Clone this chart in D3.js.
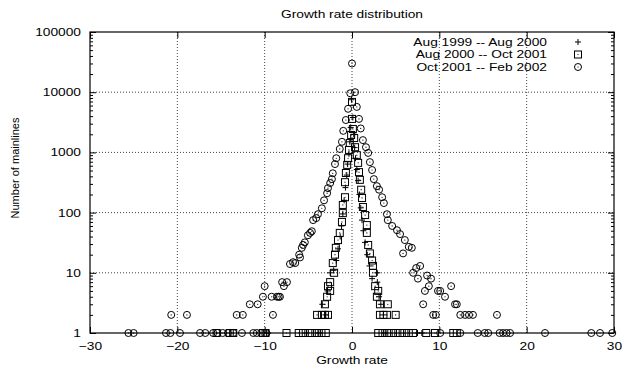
<!DOCTYPE html>
<html>
<head>
<meta charset="utf-8">
<script src="https://cdn.jsdelivr.net/npm/d3@7"></script>
<style>
  body { margin: 0; background: #fff; }
  text { font-family: "Liberation Sans", Arial, sans-serif; fill: #000; }
</style>
</head>
<body>
<svg id="chart" width="622" height="372"></svg>
<script>
// series: [growth rate, number of mainlines]
const plusData = [
  [-0.05, 7500], [0.1, 3800], [-0.15, 2600], [0.2, 2000], [-0.25, 1500], [0.3, 1200],
  [-0.35, 950], [0.4, 800], [-0.5, 640], [0.55, 520], [-0.6, 420], [0.7, 340],
  [-0.75, 260], [0.85, 200], [-0.9, 160], [1.0, 120], [-1.05, 95], [1.15, 75],
  [-1.2, 60], [1.3, 50], [-1.35, 40], [1.5, 32], [-1.6, 25], [1.75, 20],
  [-1.8, 16], [2.0, 13], [-2.1, 11], [2.3, 8], [-2.5, 10], [2.9, 10],
  [2.9, 7], [-2.8, 5], [3.1, 4], [-3.4, 3], [3.3, 3], [-3.0, 2], [3.6, 2],
  [-9.6, 1], [-5.2, 1], [-3.8, 1], [3.8, 1], [7.5, 1], [8.0, 1]
];
const squareData = [
  [0, 6900], [0, 3600], [0.1, 2450], [-0.1, 1950], [0.25, 1730], [-0.25, 1430],
  [0.35, 1220], [-0.35, 1100], [0.55, 900], [-0.45, 800], [0.7, 670], [-0.55, 620],
  [0.8, 470], [-0.7, 455], [0.9, 350], [-0.8, 320], [1.05, 240], [-0.8, 180],
  [1.15, 175], [-1.05, 134], [1.25, 124], [-1.05, 98], [1.5, 91], [-1.15, 70],
  [1.7, 62], [-1.4, 46], [1.7, 46], [-1.6, 35], [1.85, 29], [-1.85, 26],
  [2.05, 21], [-1.95, 20], [2.3, 16], [-2.2, 14.5], [2.4, 13], [-2.05, 10],
  [2.4, 10], [-2.5, 7], [2.65, 6], [-2.75, 6], [3.0, 5], [-2.5, 5], [2.85, 4],
  [-2.85, 4], [-3.1, 3], [3.2, 3], [4.1, 3], [3.2, 2], [3.6, 2], [4.0, 2],
  [5.0, 2], [-3.45, 2], [-4.0, 2], [-3.1, 2], [-2.75, 2],
  [-15.5, 1], [-14.0, 1], [-13.6, 1], [-10.2, 1], [-9.9, 1], [-7.5, 1], [-6.1, 1],
  [-5.6, 1], [-5.0, 1], [-4.6, 1], [-4.0, 1], [-3.5, 1], [-3.0, 1], [3.0, 1],
  [3.5, 1], [4.0, 1], [4.5, 1], [5.0, 1], [5.5, 1], [6.0, 1], [6.5, 1], [7.0, 1],
  [8.5, 1], [9.5, 1], [11.6, 1], [12.0, 1]
];
const circleData = [
  [0.0, 30000], [-0.2, 9600], [0.35, 10000], [-0.45, 5300], [0.55, 5700],
  [-0.7, 3450], [0.8, 3600], [-1.0, 2280],
  [-1.15, 1500], [-1.4, 1140], [-1.8, 800], [-1.95, 640], [-2.2, 450], [-2.3, 360],
  [-2.5, 310], [-2.75, 255], [-2.85, 210], [-3.2, 160], [-3.45, 118], [-3.9, 94],
  [-4.1, 81], [-4.45, 75], [-4.6, 49], [-4.8, 46], [-5.05, 42], [-5.4, 32],
  [-5.6, 29], [-5.75, 26], [-6.05, 20], [-5.95, 18], [-6.5, 14.5], [-6.75, 15],
  [-7.1, 14], [-7.45, 7], [-7.8, 6], [-8.0, 7], [-8.25, 4], [-8.4, 4], [-8.6, 4],
  [-9.2, 4], [-10.0, 6], [-10.2, 4], [-10.8, 3], [-11.7, 3], [-9.05, 2],
  [-12.5, 2], [-13.2, 2], [-18.9, 2], [-20.7, 2],
  [1.0, 2500], [1.25, 1600], [1.6, 1220], [1.85, 980], [2.05, 690], [2.3, 510],
  [2.5, 360], [2.85, 275], [3.1, 240], [3.45, 180], [3.65, 144], [4.0, 94],
  [4.1, 75], [4.6, 60], [5.15, 51], [5.5, 44], [6.05, 35], [6.5, 27], [6.85, 26],
  [5.85, 21], [7.8, 13], [7.35, 12], [7.0, 10], [7.55, 8], [8.6, 9], [9.05, 8],
  [8.8, 6], [8.35, 5], [9.85, 5], [10.1, 5], [11.35, 6], [10.65, 4], [8.15, 3],
  [11.8, 3], [12.0, 3], [9.3, 2], [9.6, 2], [12.4, 2], [12.95, 2], [13.4, 2],
  [13.85, 2], [16.6, 2],
  [-25.6, 1], [-25.0, 1], [-21.3, 1], [-20.8, 1], [-19.7, 1], [-17.4, 1], [-16.8, 1],
  [-15.9, 1], [-15.4, 1], [-14.8, 1], [-14.2, 1], [-13.6, 1], [-12.6, 1], [-11.3, 1],
  [-10.9, 1], [-10.4, 1], [-9.8, 1], [10.1, 1], [12.4, 1], [14.4, 1], [15.2, 1],
  [15.6, 1], [16.9, 1], [17.3, 1], [17.7, 1], [18.1, 1], [22.1, 1], [27.4, 1],
  [28.4, 1], [29.8, 1]
];
const seriesNames = ["Aug 1999 -- Aug 2000", "Aug 2000 -- Oct 2001", "Oct 2001 -- Feb 2002"];
const xTicks = [-30, -20, -10, 0, 10, 20, 30];
const yTicks = [1, 10, 100, 1000, 10000, 100000];

const FONT = 11;
const SX = 1.25; // 原图文字横向被拉宽

const svg = d3.select("#chart");
const margin = { top: 32, right: 8, bottom: 39, left: 90 };
const width = 622 - margin.left - margin.right;
const height = 372 - margin.top - margin.bottom;

const x = d3.scaleLinear().domain([-30, 30]).range([0, width]);
const y = d3.scaleLog().domain([1, 100000]).range([height, 0]);

const g = svg.append("g").attr("transform", `translate(${margin.left},${margin.top})`);

// 网格
const gridX = xTicks.filter((d) => d > -30 && d < 30);
const gridY = yTicks.filter((d) => d > 1 && d < 100000);
g.selectAll(".gx").data(gridX).enter().append("line")
  .attr("x1", (d) => x(d)).attr("x2", (d) => x(d))
  .attr("y1", 0).attr("y2", height)
  .attr("stroke", "#444").attr("stroke-width", 1).attr("stroke-dasharray", "1,2");
g.selectAll(".gy").data(gridY).enter().append("line")
  .attr("x1", 0).attr("x2", width)
  .attr("y1", (d) => y(d)).attr("y2", (d) => y(d))
  .attr("stroke", "#444").attr("stroke-width", 1).attr("stroke-dasharray", "1,2");

// minor log ticks
const minorY = [];
for (let dec = 1; dec < 100000; dec *= 10) {
  for (let k = 2; k <= 9; k++) minorY.push(dec * k);
}

function styleAxis(sel) {
  sel.select(".domain").remove();
  sel.selectAll("line").attr("stroke", "#000");
  sel.selectAll("text").style("font-size", FONT + "px").each(function () {
    const t = d3.select(this);
    const tx = +t.attr("x") || 0;
    t.attr("x", tx / SX).attr("transform", `scale(${SX},1)`);
  });
}

function addText(px, py, str, anchor) {
  return svg.append("text")
    .attr("transform", `translate(${px},${py}) scale(${SX},1)`)
    .attr("text-anchor", anchor).attr("dy", "0.35em")
    .style("font-size", FONT + "px").text(str);
}

g.append("g").attr("transform", `translate(0,${height})`)
  .call(d3.axisBottom(x).tickValues(xTicks).tickSize(-6).tickPadding(9).tickFormat(d3.format("d")))
  .call(styleAxis);
g.append("g")
  .call(d3.axisTop(x).tickValues(xTicks).tickSize(-6).tickFormat(""))
  .call(styleAxis);
g.append("g")
  .call(d3.axisLeft(y).tickValues(yTicks).tickSize(-6).tickPadding(9).tickFormat(d3.format("d")))
  .call(styleAxis);
g.append("g")
  .call(d3.axisLeft(y).tickValues(minorY).tickSize(-3).tickFormat(""))
  .call(styleAxis);
g.append("g").attr("transform", `translate(${width},0)`)
  .call(d3.axisRight(y).tickValues(yTicks).tickSize(-6).tickFormat(""))
  .call(styleAxis);
g.append("g").attr("transform", `translate(${width},0)`)
  .call(d3.axisRight(y).tickValues(minorY).tickSize(-3).tickFormat(""))
  .call(styleAxis);

// border
g.append("rect").attr("width", width).attr("height", height)
  .attr("fill", "none").attr("stroke", "#000").attr("stroke-width", 1.2);

// markers
function drawPlus(sel, cx, cy) {
  sel.append("path").attr("d", `M${cx - 3},${cy}H${cx + 3}M${cx},${cy - 3}V${cy + 3}`)
    .attr("stroke", "#000").attr("stroke-width", 1).attr("fill", "none");
}
function drawSquare(sel, cx, cy) {
  sel.append("rect").attr("x", cx - 3.5).attr("y", cy - 3.5).attr("width", 7).attr("height", 7)
    .attr("fill", "none").attr("stroke", "#000").attr("stroke-width", 1);
  sel.append("circle").attr("cx", cx).attr("cy", cy).attr("r", 0.6).attr("fill", "#000");
}
function drawCircle(sel, cx, cy) {
  sel.append("circle").attr("cx", cx).attr("cy", cy).attr("r", 3.5)
    .attr("fill", "none").attr("stroke", "#000").attr("stroke-width", 1);
  sel.append("circle").attr("cx", cx).attr("cy", cy).attr("r", 0.6).attr("fill", "#000");
}
const marks = [drawPlus, drawSquare, drawCircle];
const allSeries = [plusData, squareData, circleData];

const pts = g.append("g");
allSeries.forEach((data, i) => {
  data.forEach((d) => marks[i](pts, x(d[0]), y(d[1])));
});

// legend
seriesNames.forEach((name, i) => {
  const ly = margin.top + 10 + i * 12.5;
  addText(547, ly, name, "end");
  marks[i](g, 488, ly - margin.top);
});

// titles
addText(margin.left + width / 2, 14, "Growth rate distribution", "middle");
addText(margin.left + width / 2, 360, "Growth rate", "middle");
svg.append("text").attr("transform", `translate(19,168) rotate(-90)`)
  .attr("text-anchor", "middle").style("font-size", FONT + "px").text("Number of mainlines");
</script>
</body>
</html>
